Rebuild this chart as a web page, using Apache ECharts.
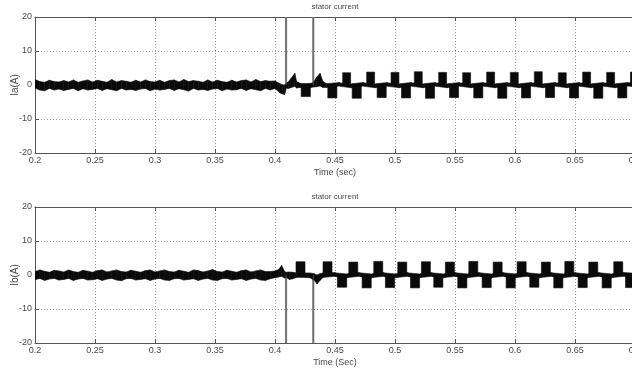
<!DOCTYPE html>
<html>
<head>
<meta charset="utf-8">
<script src="https://cdn.jsdelivr.net/npm/echarts@6/dist/echarts.min.js"></script>
<style>html,body{margin:0;padding:0;background:#fff;}#c{width:632px;height:369px;}</style>
</head>
<body>
<div id="c"></div>
<script>
// ---- data ----
const timeMin = 0.2, timeMax = 0.7, timeStep = 0.05;
const currentMin = -20, currentMax = 20, currentStep = 10;
const titleText = 'stator current';
const yNames = ['Ia(A)', 'Ib(A)'];
const xNames = ['Time (sec)', 'Time (Sec)'];

// noisy band envelope [t, low, high]
const iaEnvelope = [
[0.200,-0.9,1.6],[0.204,-1.5,1.0],[0.208,-1.7,0.8],[0.212,-1.0,1.4],[0.216,-1.5,1.0],
[0.220,-1.2,0.9],[0.224,-1.6,1.3],[0.228,-1.3,0.9],[0.232,-1.0,1.5],[0.236,-1.7,0.8],
[0.240,-1.1,1.2],[0.244,-1.5,1.5],[0.248,-1.3,0.9],[0.252,-1.0,1.4],[0.256,-1.6,1.1],
[0.260,-1.1,0.8],[0.264,-1.4,1.6],[0.268,-1.7,0.9],[0.272,-1.0,1.3],[0.276,-1.5,1.1],
[0.280,-1.3,0.8],[0.284,-1.6,1.4],[0.288,-1.2,0.9],[0.292,-1.0,1.5],[0.296,-1.7,1.0],
[0.300,-1.2,0.9],[0.304,-1.5,1.4],[0.308,-1.3,0.8],[0.312,-1.0,1.3],[0.316,-1.6,1.5],
[0.320,-1.1,0.9],[0.324,-1.4,1.6],[0.328,-1.8,1.0],[0.332,-1.0,1.3],[0.336,-1.5,1.1],
[0.340,-1.3,0.8],[0.344,-1.6,1.5],[0.348,-1.2,0.9],[0.352,-1.0,1.4],[0.356,-1.7,1.0],
[0.360,-1.2,0.8],[0.364,-1.5,1.4],[0.368,-1.4,0.9],[0.372,-1.0,1.3],[0.376,-1.6,1.5],
[0.380,-1.1,0.9],[0.384,-1.4,1.6],[0.388,-1.7,1.0],[0.392,-1.0,1.3],[0.396,-1.5,1.1],
[0.400,-1.0,1.2],[0.402,-1.6,0.8],[0.404,-2.3,0.4],[0.406,-2.6,0.1],[0.408,-2.8,0.0],
[0.4095,-0.9,0.6],[0.411,-1.0,0.9],[0.413,-0.8,1.8],[0.4165,-0.4,3.4],[0.418,-0.9,1.0],
[0.421,-0.7,0.5],[0.425,-0.7,0.4],[0.430,-0.7,0.5],[0.432,-0.6,0.7],[0.4345,-0.5,2.2],
[0.4375,-0.3,3.4],[0.440,-0.7,1.0],[0.443,-0.7,0.4],
[0.4535,-0.3,0.7],[0.4545,-0.4,0.6],[0.4635,-0.8,0.3],[0.4645,-0.7,0.4],
[0.4735,-0.3,0.7],[0.4745,-0.4,0.6],[0.4835,-0.8,0.3],[0.4845,-0.7,0.4],
[0.4935,-0.3,0.7],[0.4945,-0.4,0.6],[0.5035,-0.8,0.3],[0.5045,-0.7,0.4],
[0.5135,-0.3,0.7],[0.5145,-0.4,0.6],[0.5235,-0.8,0.3],[0.5245,-0.7,0.4],
[0.5335,-0.3,0.7],[0.5345,-0.4,0.6],[0.5435,-0.8,0.3],[0.5445,-0.7,0.4],
[0.5535,-0.3,0.7],[0.5545,-0.4,0.6],[0.5635,-0.8,0.3],[0.5645,-0.7,0.4],
[0.5735,-0.3,0.7],[0.5745,-0.4,0.6],[0.5835,-0.8,0.3],[0.5845,-0.7,0.4],
[0.5935,-0.3,0.7],[0.5945,-0.4,0.6],[0.6035,-0.8,0.3],[0.6045,-0.7,0.4],
[0.6135,-0.3,0.7],[0.6145,-0.4,0.6],[0.6235,-0.8,0.3],[0.6245,-0.7,0.4],
[0.6335,-0.3,0.7],[0.6345,-0.4,0.6],[0.6435,-0.8,0.3],[0.6445,-0.7,0.4],
[0.6535,-0.3,0.7],[0.6545,-0.4,0.6],[0.6635,-0.8,0.3],[0.6645,-0.7,0.4],
[0.6735,-0.3,0.7],[0.6745,-0.4,0.6],[0.6835,-0.8,0.3],[0.6845,-0.7,0.4],
[0.6935,-0.3,0.7],[0.7000,-0.5,0.5]
];
// step blocks [tStart, tEnd, low, high]
const iaBlocks = [
[0.4218,0.4295,-3.4,0.2],
[0.4440,0.4516,-3.8,0.2],[0.4643,0.4719,-3.9,0.1],[0.4851,0.4927,-3.7,0.2],[0.5054,0.5130,-3.8,0.1],
[0.5254,0.5330,-3.9,0.2],[0.5454,0.5530,-3.7,0.1],[0.5656,0.5732,-3.8,0.2],[0.5856,0.5932,-3.9,0.1],
[0.6054,0.6130,-3.8,0.2],[0.6254,0.6330,-3.7,0.1],[0.6454,0.6530,-3.8,0.2],[0.6656,0.6732,-3.9,0.1],
[0.6856,0.6932,-3.8,0.2],
[0.4564,0.4630,-0.1,3.6],[0.4764,0.4830,0.0,3.8],[0.4967,0.5033,-0.1,3.7],[0.5161,0.5227,0.0,3.9],
[0.5364,0.5430,-0.1,3.7],[0.5564,0.5630,0.0,3.6],[0.5764,0.5830,-0.1,3.8],[0.5961,0.6027,0.0,3.7],
[0.6161,0.6227,-0.1,3.9],[0.6361,0.6427,0.0,3.6],[0.6564,0.6630,-0.1,3.8],[0.6764,0.6830,0.0,3.7],
[0.6962,0.7028,-0.1,3.8]
];
// spikes [t, from, to]
const iaSpikes = [[0.4092,0,20],[0.4319,0,20]];

const ibEnvelope = [
[0.200,-1.4,1.0],[0.204,-1.0,1.5],[0.208,-1.6,1.1],[0.212,-1.2,0.8],[0.216,-1.0,1.4],
[0.220,-1.5,1.2],[0.224,-1.3,0.9],[0.228,-1.0,1.5],[0.232,-1.6,1.0],[0.236,-1.2,0.8],
[0.240,-1.0,1.4],[0.244,-1.5,1.1],[0.248,-1.4,0.8],[0.252,-1.1,1.3],[0.256,-1.6,1.5],
[0.260,-1.2,0.9],[0.264,-1.0,1.2],[0.268,-1.5,1.5],[0.272,-1.7,1.0],[0.276,-1.1,0.9],
[0.280,-1.0,1.4],[0.284,-1.5,1.1],[0.288,-1.3,0.8],[0.292,-1.1,1.3],[0.296,-1.6,1.5],
[0.300,-1.2,0.9],[0.304,-1.0,1.2],[0.308,-1.5,1.5],[0.312,-1.6,1.0],[0.316,-1.1,0.9],
[0.320,-1.0,1.4],[0.324,-1.5,1.1],[0.328,-1.3,0.8],[0.332,-1.1,1.5],[0.336,-1.6,1.3],
[0.340,-1.2,0.9],[0.344,-1.0,1.2],[0.348,-1.5,1.6],[0.352,-1.6,1.0],[0.356,-1.1,0.9],
[0.360,-1.0,1.4],[0.364,-1.5,1.1],[0.368,-1.3,0.8],[0.372,-1.1,1.3],[0.376,-1.6,1.5],
[0.380,-1.2,0.9],[0.384,-1.0,1.2],[0.388,-1.5,1.5],[0.392,-1.6,1.0],[0.396,-1.1,1.0],
[0.400,-0.8,1.2],[0.403,-0.6,1.6],[0.4055,-0.4,2.8],[0.408,-0.9,1.0],[0.4095,-0.7,0.8],
[0.412,-1.3,0.9],[0.415,-1.1,0.8],[0.418,-0.7,0.6],[0.425,-0.7,0.6],[0.429,-0.8,0.6],
[0.4325,-1.5,0.4],[0.435,-2.6,0.0],[0.4375,-1.6,0.4],[0.440,-0.7,0.6],
[0.4500,-0.4,0.7],[0.4510,-0.5,0.6],[0.4600,-0.8,0.3],[0.4610,-0.7,0.4],
[0.4705,-0.4,0.7],[0.4715,-0.5,0.6],[0.4805,-0.8,0.3],[0.4815,-0.7,0.4],
[0.4905,-0.4,0.7],[0.4915,-0.5,0.6],[0.5005,-0.8,0.3],[0.5015,-0.7,0.4],
[0.5105,-0.4,0.7],[0.5115,-0.5,0.6],[0.5205,-0.8,0.3],[0.5215,-0.7,0.4],
[0.5305,-0.4,0.7],[0.5315,-0.5,0.6],[0.5405,-0.8,0.3],[0.5415,-0.7,0.4],
[0.5505,-0.4,0.7],[0.5515,-0.5,0.6],[0.5605,-0.8,0.3],[0.5615,-0.7,0.4],
[0.5705,-0.4,0.7],[0.5715,-0.5,0.6],[0.5805,-0.8,0.3],[0.5815,-0.7,0.4],
[0.5905,-0.4,0.7],[0.5915,-0.5,0.6],[0.6005,-0.8,0.3],[0.6015,-0.7,0.4],
[0.6105,-0.4,0.7],[0.6115,-0.5,0.6],[0.6205,-0.8,0.3],[0.6215,-0.7,0.4],
[0.6305,-0.4,0.7],[0.6315,-0.5,0.6],[0.6405,-0.8,0.3],[0.6415,-0.7,0.4],
[0.6505,-0.4,0.7],[0.6515,-0.5,0.6],[0.6605,-0.8,0.3],[0.6615,-0.7,0.4],
[0.6705,-0.4,0.7],[0.6715,-0.5,0.6],[0.6805,-0.8,0.3],[0.6815,-0.7,0.4],
[0.6905,-0.4,0.7],[0.7000,-0.6,0.5]
];
const ibBlocks = [
[0.4175,0.4250,0.6,3.9],
[0.4400,0.4475,-0.1,3.9],[0.4615,0.4690,0.0,3.8],[0.4823,0.4898,-0.1,4.0],[0.5023,0.5098,0.0,3.8],
[0.5220,0.5295,-0.1,3.9],[0.5420,0.5495,0.0,3.8],[0.5615,0.5690,-0.1,4.0],[0.5818,0.5893,0.0,3.8],
[0.6018,0.6093,-0.1,3.9],[0.6220,0.6295,0.0,3.8],[0.6415,0.6490,-0.1,4.0],[0.6615,0.6690,0.0,3.8],
[0.6823,0.6898,-0.1,3.9],
[0.4520,0.4598,-3.6,0.1],[0.4726,0.4802,-3.8,0.0],[0.4920,0.4996,-3.7,0.1],[0.5129,0.5205,-3.8,0.0],
[0.5323,0.5399,-3.6,0.1],[0.5523,0.5599,-3.8,0.0],[0.5726,0.5802,-3.7,0.1],[0.5926,0.6002,-3.8,0.0],
[0.6123,0.6199,-3.6,0.1],[0.6323,0.6399,-3.8,0.0],[0.6526,0.6602,-3.7,0.1],[0.6726,0.6802,-3.8,0.0],
[0.6921,0.6999,-3.7,0.1]
];
const ibSpikes = [[0.4092,0,-20],[0.4319,0,-20]];

// ---- chart ----
const FONT = "'Liberation Sans Narrow','Arial Narrow','Liberation Sans',Arial,sans-serif";
const TXT = '#4a4a4a';
const grids = [
  {left: 35, top: 17, width: 600, height: 136},
  {left: 35, top: 207, width: 600, height: 136}
];

function envelopeRenderer(env, color) {
  return function (params, api) {
    const i = params.dataIndex;
    if (i >= env.length - 1) return null;
    const a = env[i], b = env[i + 1];
    const pts = [
      api.coord([a[0], a[2]]), api.coord([b[0], b[2]]),
      api.coord([b[0], b[1]]), api.coord([a[0], a[1]])
    ];
    return {type: 'polygon', shape: {points: pts},
      style: {fill: color, stroke: color, lineWidth: 0.6}};
  };
}
function blockRenderer(color) {
  return function (params, api) {
    const p0 = api.coord([api.value(0), api.value(3)]);
    const p1 = api.coord([api.value(1), api.value(2)]);
    return {type: 'rect', shape: {x: p0[0], y: p0[1], width: Math.max(p1[0] - p0[0], 1), height: p1[1] - p0[1]},
      style: {fill: color, stroke: color, lineWidth: 0.6}};
  };
}
function spikeRenderer(color, w) {
  return function (params, api) {
    const p0 = api.coord([api.value(0), api.value(1)]);
    const p1 = api.coord([api.value(0), api.value(2)]);
    return {type: 'line', shape: {x1: p0[0], y1: p0[1], x2: p1[0], y2: p1[1]},
      style: {stroke: color, lineWidth: w}};
  };
}

const xAxes = [], yAxes = [], series = [], graphics = [];
[0, 1].forEach(function (g) {
  xAxes.push({
    type: 'value', gridIndex: g, min: timeMin, max: timeMax, interval: timeStep,
    position: 'bottom',
    name: xNames[g], nameLocation: 'middle', nameGap: 15, nameMoveOverlap: false,
    nameTextStyle: {color: TXT, fontSize: 9, fontFamily: FONT},
    axisLine: {show: true, onZero: false, lineStyle: {color: '#555', width: 1}},
    axisTick: {show: true, inside: true, length: 4, lineStyle: {color: '#555'}},
    axisLabel: {show: true, margin: 3, color: TXT, fontSize: 9, fontFamily: FONT},
    splitLine: {show: true, lineStyle: {color: '#9a9a9a', type: [1, 2], width: 1}}
  });
  xAxes.push({
    type: 'value', gridIndex: g, min: timeMin, max: timeMax, interval: timeStep,
    position: 'top',
    axisLine: {show: true, onZero: false, lineStyle: {color: '#555', width: 1}},
    axisTick: {show: true, inside: true, length: 4, lineStyle: {color: '#555'}},
    axisLabel: {show: false}, splitLine: {show: false}
  });
  yAxes.push({
    type: 'value', gridIndex: g, min: currentMin, max: currentMax, interval: currentStep,
    name: yNames[g], nameLocation: 'middle', nameGap: 15, nameRotate: 90, nameMoveOverlap: false,
    nameTextStyle: {color: TXT, fontSize: 10, fontFamily: FONT},
    axisLine: {show: true, onZero: false, lineStyle: {color: '#555', width: 1}},
    axisTick: {show: true, inside: true, length: 4, lineStyle: {color: '#555'}},
    axisLabel: {show: true, margin: 3, color: TXT, fontSize: 9, fontFamily: FONT},
    splitLine: {show: true, lineStyle: {color: '#9a9a9a', type: [1, 2], width: 1}}
  });
  const env = g === 0 ? iaEnvelope : ibEnvelope;
  const blocks = g === 0 ? iaBlocks : ibBlocks;
  const spikes = g === 0 ? iaSpikes : ibSpikes;
  const xi = g * 2;
  series.push({type: 'custom', xAxisIndex: xi, yAxisIndex: g, clip: true, silent: true,
    data: spikes, encode: {x: 0, y: [1, 2]}, renderItem: spikeRenderer('#8c8c8c', 2.2), z: 2});
  series.push({type: 'custom', xAxisIndex: xi, yAxisIndex: g, clip: true, silent: true,
    data: env, encode: {x: 0, y: [1, 2]}, renderItem: envelopeRenderer(env, '#0a0a0a'), z: 3});
  series.push({type: 'custom', xAxisIndex: xi, yAxisIndex: g, clip: true, silent: true,
    data: blocks, encode: {x: [0, 1], y: [2, 3]}, renderItem: blockRenderer('#0a0a0a'), z: 4});
  series.push({type: 'custom', xAxisIndex: xi, yAxisIndex: g, clip: true, silent: true,
    data: spikes, encode: {x: 0, y: [1, 2]}, renderItem: spikeRenderer('#5a5a5a', 0.8), z: 5});
  graphics.push({type: 'text', x: 335, y: grids[g].top - 10,
    style: {text: titleText, fill: TXT, font: "8px " + FONT, align: 'center', verticalAlign: 'middle'}});
});

const chart = echarts.init(document.getElementById('c'), null, {renderer: 'canvas'});
chart.setOption({
  animation: false,
  backgroundColor: '#ffffff',
  grid: grids.map(function (g) { return Object.assign({show: false, outerBoundsMode: 'none', containLabel: false}, g); }),
  xAxis: xAxes,
  yAxis: yAxes,
  series: series,
  graphic: graphics
});
</script>
</body>
</html>
